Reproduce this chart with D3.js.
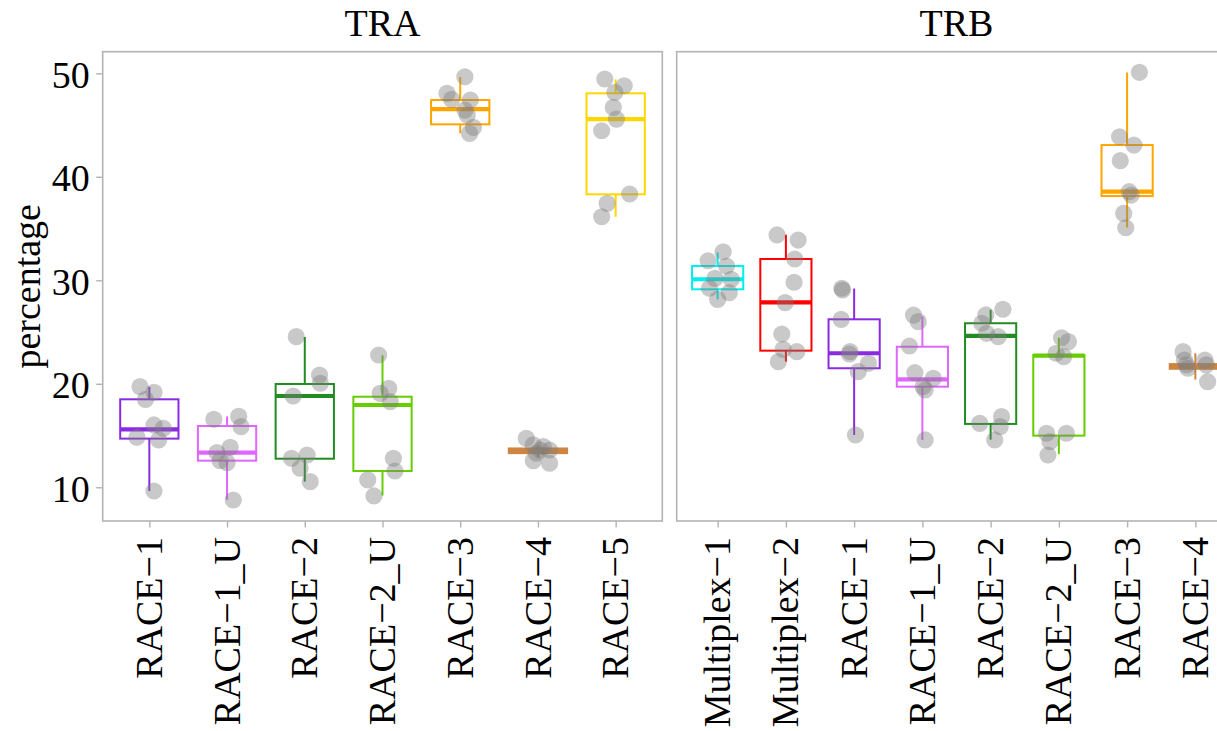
<!DOCTYPE html>
<html>
<head>
<meta charset="utf-8">
<script src="https://cdn.jsdelivr.net/npm/d3@7"></script>
<style>
  html, body { margin: 0; padding: 0; background: #fff; overflow: hidden; }
  svg text { font-family: "Liberation Serif", "Times New Roman", serif; fill: #000; }
</style>
</head>
<body>
<svg id="chart" width="1217" height="731"></svg>
<script>
// ---- data -------------------------------------------------------------
const panels = ["TRA", "TRB"];

const traCategories = ["RACE\u22121", "RACE\u22121_U", "RACE\u22122", "RACE\u22122_U", "RACE\u22123", "RACE\u22124", "RACE\u22125"];
const traColors     = ["#8A2BE2", "#E066FF", "#228B22", "#66CD00", "#FFA500", "#CD853F", "#FFD700"];
// box statistics: lower whisker, Q1, median, Q3, upper whisker
const traLow    = [9.64, 8.80, 10.54, 9.20, 44.20, 12.90, 36.14];
const traQ1     = [14.70, 12.57, 12.76, 11.57, 45.07, 13.30, 38.31];
const traMedian = [15.60, 13.34, 18.82, 17.95, 46.55, 13.50, 45.58];
const traQ3     = [18.50, 15.92, 19.98, 18.75, 47.42, 13.75, 48.07];
const traHigh   = [19.70, 16.85, 24.52, 22.75, 49.64, 13.95, 49.42];
// individual samples per category
const traPoints = [
  [19.72, 19.18, 18.50, 16.02, 15.70, 14.83, 14.57, 9.64],
  [16.57, 16.85, 15.86, 13.34, 13.86, 12.57, 12.38, 8.77],
  [24.55, 20.85, 20.05, 18.82, 12.80, 13.12, 11.84, 10.54],
  [22.78, 19.57, 18.27, 12.80, 11.57, 10.71, 9.16, 19.08],
  [49.67, 48.07, 47.49, 47.42, 46.45, 45.97, 44.78, 44.20],
  [14.73, 14.09, 13.92, 13.60, 13.29, 12.57, 12.32, 13.60],
  [49.45, 48.80, 48.16, 46.71, 45.58, 44.45, 38.34, 37.44, 36.14]
];
// horizontal jitter of each sample, as a fraction of the category step
const traJitter = [
  [-0.12, 0.06, -0.05, 0.06, 0.18, -0.16, 0.12, 0.06],
  [-0.17, 0.15, 0.18, -0.13, 0.04, -0.09, 0.00, 0.08],
  [-0.11, 0.19, 0.20, -0.15, -0.17, 0.03, -0.06, 0.07],
  [-0.05, 0.08, 0.10, 0.14, 0.16, -0.19, -0.11, -0.03],
  [0.06, -0.17, -0.11, 0.13, 0.06, 0.09, 0.17, 0.12],
  [-0.15, -0.06, 0.07, 0.15, -0.02, -0.06, 0.15, 0.03],
  [-0.14, 0.11, -0.01, -0.03, 0.01, -0.18, 0.18, -0.11, -0.18]
];

const trbCategories = ["Multiplex\u22121", "Multiplex\u22122", "RACE\u22121", "RACE\u22121_U", "RACE\u22122", "RACE\u22122_U", "RACE\u22123", "RACE\u22124"];
const trbColors     = ["#00EEEE", "#FF0000", "#8A2BE2", "#E066FF", "#228B22", "#66CD00", "#FFA500", "#CD853F"];
const trbLow    = [28.17, 22.14, 15.05, 14.57, 14.60, 13.20, 35.10, 20.40];
const trbQ1     = [29.13, 23.20, 21.50, 19.72, 16.12, 14.99, 38.14, 21.45];
const trbMedian = [30.10, 27.87, 22.95, 20.43, 24.62, 22.72, 38.56, 21.68];
const trbQ3     = [31.38, 32.06, 26.23, 23.58, 25.85, 22.78, 43.07, 21.90];
const trbHigh   = [32.70, 34.40, 29.20, 26.50, 27.15, 24.45, 50.08, 22.95];
const trbPoints = [
  [32.76, 31.89, 31.38, 30.19, 30.10, 29.23, 28.80, 28.16],
  [34.38, 33.89, 32.06, 29.81, 27.84, 24.81, 23.10, 22.14, 23.33],
  [29.23, 29.06, 26.23, 23.10, 22.88, 21.98, 21.17, 15.05],
  [26.64, 26.00, 23.65, 21.07, 20.53, 19.72, 19.40, 14.57],
  [27.20, 26.65, 25.85, 24.88, 24.55, 16.18, 16.82, 15.86, 14.57],
  [24.45, 24.07, 22.95, 22.62, 15.22, 15.22, 14.41, 13.12],
  [50.10, 43.87, 43.07, 41.56, 38.56, 38.24, 36.47, 35.08],
  [23.10, 22.30, 22.30, 21.50, 21.82, 20.20, 21.82]
];
const trbJitter = [
  [0.08, -0.14, 0.13, -0.04, 0.20, -0.12, 0.17, 0.00],
  [-0.13, 0.18, 0.13, 0.12, -0.01, -0.06, 0.16, -0.11, -0.04],
  [-0.18, -0.17, -0.19, -0.06, -0.07, 0.21, 0.06, 0.02],
  [-0.13, -0.06, -0.19, -0.11, 0.16, 0.01, 0.04, 0.04],
  [0.18, -0.07, -0.13, -0.06, 0.11, -0.16, 0.16, 0.14, 0.06],
  [0.04, 0.14, -0.04, 0.07, -0.18, 0.11, -0.13, -0.16],
  [0.18, -0.11, 0.10, -0.10, 0.03, 0.06, -0.05, -0.02],
  [-0.18, -0.16, 0.14, -0.11, 0.16, 0.18, -0.13]
];

const yTicks = [10, 20, 30, 40, 50];
const yTitle = "percentage";

// ---- layout -----------------------------------------------------------
const panelTop = 51.7, panelBottom = 521;
const panelWidth = 559.6;
const panelLefts = [102.7, 676.7];
const fontSize = 38;
const borderColor = "#b3b3b3";

const svg = d3.select("#chart");

const y = d3.scaleLinear().domain([6.74, 52.09]).range([panelBottom, panelTop]);

const panelData = [
  { name: panels[0], cats: traCategories, colors: traColors, lo: traLow, q1: traQ1, med: traMedian, q3: traQ3, hi: traHigh, pts: traPoints, jit: traJitter },
  { name: panels[1], cats: trbCategories, colors: trbColors, lo: trbLow, q1: trbQ1, med: trbMedian, q3: trbQ3, hi: trbHigh, pts: trbPoints, jit: trbJitter }
];

panelData.forEach((p, pi) => {
  const left = panelLefts[pi];
  const x = d3.scalePoint().domain(p.cats).range([left, left + panelWidth]).padding(0.6);
  const step = x.step();
  const boxW = step * 0.75;

  const g = svg.append("g");

  // facet strip title
  g.append("text")
    .attr("x", left + panelWidth / 2)
    .attr("y", 35.5)
    .attr("text-anchor", "middle")
    .style("font-size", fontSize + "px")
    .text(p.name);

  // boxes: whiskers, box outline, median
  const boxes = g.selectAll("g.box").data(p.cats).join("g").attr("class", "box");
  boxes.each(function(c, i) {
    const bx = x(c);
    const col = p.colors[i];
    const b = d3.select(this);
    b.append("line")
      .attr("x1", bx).attr("x2", bx)
      .attr("y1", y(p.q3[i])).attr("y2", y(p.hi[i]))
      .attr("stroke", col).attr("stroke-width", 2);
    b.append("line")
      .attr("x1", bx).attr("x2", bx)
      .attr("y1", y(p.q1[i])).attr("y2", y(p.lo[i]))
      .attr("stroke", col).attr("stroke-width", 2);
    b.append("rect")
      .attr("x", bx - boxW / 2).attr("width", boxW)
      .attr("y", y(p.q3[i])).attr("height", Math.max(0.5, y(p.q1[i]) - y(p.q3[i])))
      .attr("fill", "none").attr("stroke", col).attr("stroke-width", 2);
    b.append("line")
      .attr("x1", bx - boxW / 2).attr("x2", bx + boxW / 2)
      .attr("y1", y(p.med[i])).attr("y2", y(p.med[i]))
      .attr("stroke", col).attr("stroke-width", 4.2);
  });

  // jittered samples
  const pts = [];
  p.cats.forEach((c, i) => {
    p.pts[i].forEach((v, k) => pts.push({ c, v, j: p.jit[i][k] }));
  });
  g.selectAll("circle.pt").data(pts).join("circle")
    .attr("class", "pt")
    .attr("cx", d => x(d.c) + d.j * step)
    .attr("cy", d => y(d.v))
    .attr("r", 8.6)
    .attr("fill", "#7f7f7f")
    .attr("fill-opacity", 0.42);

  // panel border
  g.append("rect")
    .attr("x", left).attr("y", panelTop)
    .attr("width", panelWidth).attr("height", panelBottom - panelTop)
    .attr("fill", "none").attr("stroke", borderColor).attr("stroke-width", 1.6);

  // x axis ticks and rotated labels
  const xAxis = d3.axisBottom(x).tickSize(6.5).tickPadding(0).tickFormat("");
  const xg = g.append("g").attr("transform", `translate(0,${panelBottom})`).call(xAxis);
  xg.select(".domain").remove();
  xg.selectAll(".tick line").attr("stroke", borderColor).attr("stroke-width", 1.4);

  g.selectAll("text.xlab").data(p.cats).join("text")
    .attr("class", "xlab")
    .attr("transform", d => `translate(${x(d) + 12.6},${panelBottom + 16}) rotate(-90)`)
    .attr("text-anchor", "end")
    .style("font-size", fontSize + "px")
    .text(d => d);

  // y axis on first panel only
  if (pi === 0) {
    const yAxis = d3.axisLeft(y).tickValues(yTicks).tickSize(6.5).tickFormat("");
    const yg = g.append("g").attr("transform", `translate(${left},0)`).call(yAxis);
    yg.select(".domain").remove();
    yg.selectAll(".tick line").attr("stroke", borderColor).attr("stroke-width", 1.4);

    g.selectAll("text.ylab").data(yTicks).join("text")
      .attr("class", "ylab")
      .attr("x", left - 13)
      .attr("y", d => y(d) + 14.5)
      .attr("text-anchor", "end")
      .style("font-size", fontSize + "px")
      .text(d => d);

    g.append("text")
      .attr("transform", `translate(40,${(panelTop + panelBottom) / 2}) rotate(-90)`)
      .attr("text-anchor", "middle")
      .style("font-size", fontSize + "px")
      .text(yTitle);
  }
});
</script>
</body>
</html>
